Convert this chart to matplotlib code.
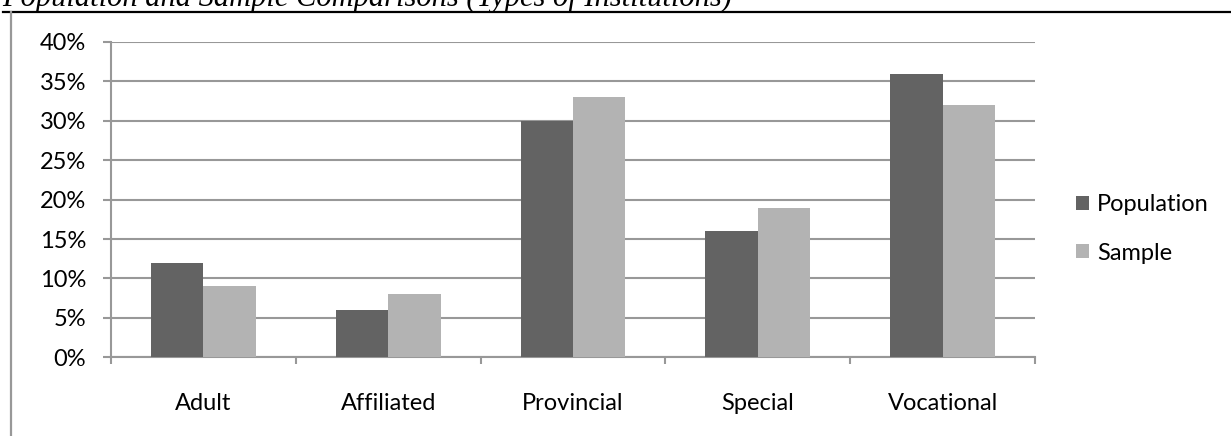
import numpy as np
import matplotlib
matplotlib.use('Agg')
import matplotlib.pyplot as plt
from matplotlib.lines import Line2D
from matplotlib.ticker import FuncFormatter

plt.rcParams["font.family"] = "Lato"

categories = ["Adult", "Affiliated", "Provincial", "Special", "Vocational"]
population = [12, 6, 30, 16, 36]
sample = [9, 8, 33, 19, 32]
yticks = np.arange(0, 45, 5)

W, H = 1231, 436
fs = 17
fig = plt.figure(figsize=(W / 100, H / 100), dpi=100)
ax = fig.add_axes([111 / W, (H - 357.3) / H, (1035 - 111) / W, (357.3 - 42) / H])

x = np.arange(len(categories))
bw = 0.284
grid_c = "#989898"
ax.bar(x - bw / 2, population, bw, color="#636363", label="Population", zorder=3)
ax.bar(x + bw / 2, sample, bw, color="#b3b3b3", label="Sample", zorder=3)

ax.set_xlim(-0.5, len(categories) - 0.5)
ax.set_ylim(0, 40)
ax.set_yticks(yticks)
ax.yaxis.set_major_formatter(FuncFormatter(lambda v, pos: f"{v:.0f}%"))
ax.yaxis.grid(True, color=grid_c, linewidth=1.5, zorder=0)

# category boundaries as ticks, labels in the middle
ax.set_xticks(np.arange(len(categories) + 1) - 0.5)
ax.set_xticklabels([])
ax.set_xticks(x, minor=True)
ax.set_xticklabels(categories, minor=True, fontsize=fs)
ax.tick_params(axis="x", which="major", length=5, width=1.5, color=grid_c)
ax.tick_params(axis="x", which="minor", length=0, pad=25.5)
ax.tick_params(axis="y", length=5.8, width=1.5, color=grid_c, labelsize=fs, pad=12)

for s in ["top", "right"]:
    ax.spines[s].set_visible(False)
for s in ["left", "bottom"]:
    ax.spines[s].set_color(grid_c)
    ax.spines[s].set_linewidth(1.5)

ax.legend(loc="center left", bbox_to_anchor=(1.021, 0.407), frameon=False, fontsize=fs,
          handlelength=0.55, handleheight=0.55, handletextpad=0.35, labelspacing=1.15)

# page frame and caption
fig.add_artist(Line2D([3 / W, 1], [(H - 12.5) / H] * 2, color="black", linewidth=1.6))
fig.add_artist(Line2D([11 / W] * 2, [0, (H - 12.5) / H], color=grid_c, linewidth=1.6))
fig.text(2 / W, (H - 6) / H, "Population and Sample Comparisons (Types of Institutions)",
         family="Liberation Serif", style="italic", fontsize=22, va="baseline", ha="left")

fig.savefig("out.png", dpi=100)
